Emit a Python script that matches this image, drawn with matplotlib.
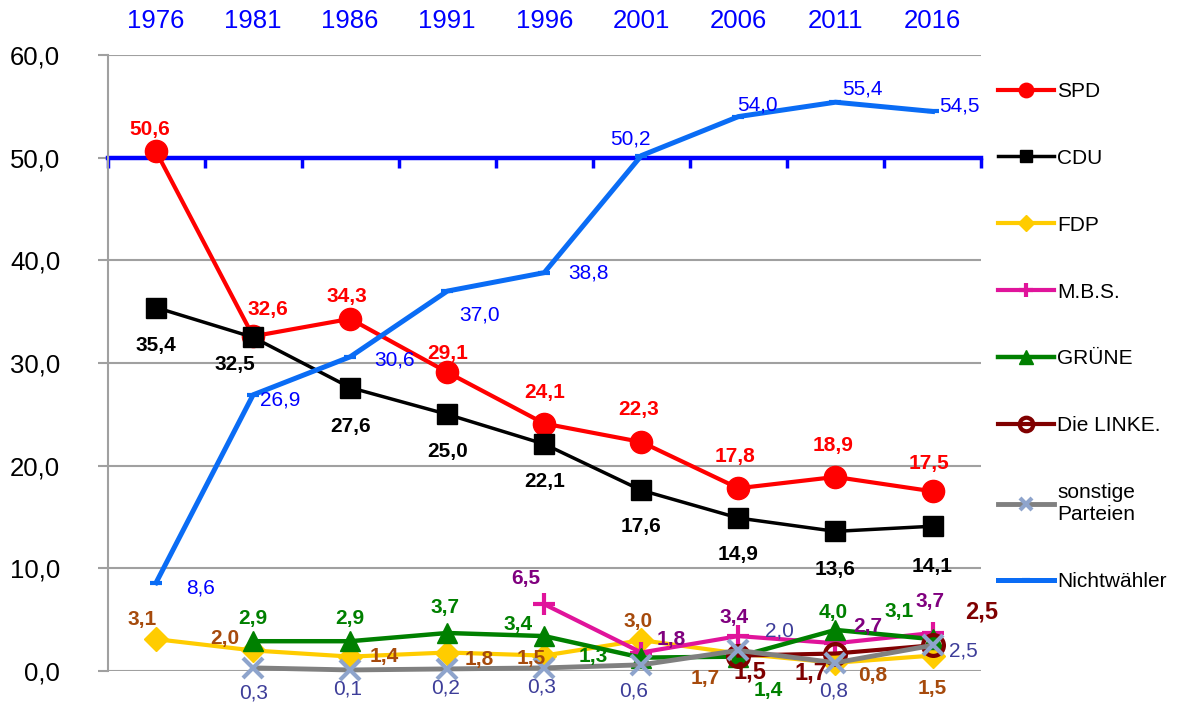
# -*- coding: utf-8 -*-

'''
Wahlergebnisse 1976 - 2016 mit Nichtwaehlern
'''

# imports
import matplotlib
matplotlib.use('Agg')
import matplotlib.pyplot as plt
from matplotlib.ticker import FuncFormatter

################################################################################
# data

years = ['1976', '1981', '1986', '1991', '1996', '2001', '2006', '2011', '2016']

spd = [50.6, 32.6, 34.3, 29.1, 24.1, 22.3, 17.8, 18.9, 17.5]
cdu = [35.4, 32.5, 27.6, 25.0, 22.1, 17.6, 14.9, 13.6, 14.1]
fdp = [3.1, 2.0, 1.4, 1.8, 1.5, 3.0, 1.7, 0.8, 1.5]
mbs = [None, None, None, None, 6.5, 1.8, 3.4, 2.7, 3.7]
gruene = [None, 2.9, 2.9, 3.7, 3.4, 1.3, 1.4, 4.0, 3.1]
linke = [None, None, None, None, None, None, 1.5, 1.7, 2.5]
sonstige = [None, 0.3, 0.1, 0.2, 0.3, 0.6, 2.0, 0.8, 2.5]
nichtwaehler = [8.6, 26.9, 30.6, 37.0, 38.8, 50.2, 54.0, 55.4, 54.5]

# label offsets in pixels (dx, dy)
spd_off = [(-6, 22), (15, 27), (-3, 22), (0, 19), (0, 31), (-3, 33), (-3, 32), (-2, 31), (-4, 28)]
cdu_off = [(0, -38), (-18, -27), (0, -39), (0, -37), (0, -37), (0, -36), (0, -36), (0, -38), (0, -40)]
fdp_off = [(-14, 20), (-28, 12), (34, 0), (32, -7), (-13, -3), (-3, 19), (-33, -25), (37, -13), (0, -33)]
mbs_off = [None, None, None, None, (-18, 26), (30, 13), (-4, 19), (32, 17), (-3, 31)]
gruene_off = [None, (0, 23), (0, 23), (-2, 25), (-26, 12), (-48, 1), (30, -34), (-2, 17), (-33, 28)]
linke_off = [None, None, None, None, None, None, (12, -16), (-25, -19), (49, 33)]
sonstige_off = [None, (0, -25), (-3, -19), (-2, -19), (-3, -19), (-8, -26), (41, 19), (-2, -28), (31, -6)]
nicht_off = [(44, -5), (27, -5), (44, -3), (32, -24), (44, 0), (-11, 17), (19, 12), (27, 13), (27, 5)]

################################################################################

def fmt(v):
    return ('%.1f' % v).replace('.', ',')

def add_labels(ax, values, offsets, color, size=15, weight='bold'):
    for i, v in enumerate(values):
        if v is None:
            continue
        ax.annotate(fmt(v), (i, v), xytext=offsets[i], textcoords='offset pixels',
                    ha='center', va='center', color=color, fontsize=size,
                    fontweight=weight, zorder=20)

def series(values):
    xs = [i for i, v in enumerate(values) if v is not None]
    ys = [v for v in values if v is not None]
    return xs, ys

################################################################################

if __name__ == "__main__":

    plt.rcParams['font.family'] = ['Liberation Sans', 'DejaVu Sans']

    fig = plt.figure(figsize=(11.78, 7.04), dpi=100)
    ax = fig.add_axes([0.0913, 0.0469, 0.7415, 0.875])

    ax.plot(*series(spd), color='#FF0000', lw=3, marker='o', ms=16, label='SPD', clip_on=False)
    ax.plot(*series(cdu), color='#000000', lw=2.5, marker='s', ms=14, label='CDU', clip_on=False)
    ax.plot(*series(fdp), color='#FFCC00', lw=3, marker='D', ms=12, label='FDP', clip_on=False)
    ax.plot(*series(mbs), color='#E0149B', lw=3, marker='+', ms=16, mew=3, label='M.B.S.', clip_on=False)
    ax.plot(*series(gruene), color='#008000', lw=3.2, marker='^', ms=15, label='GRÜNE', clip_on=False)
    ax.plot(*series(linke), color='#800000', lw=3, marker='o', ms=15, mew=3, mfc='none',
            label='Die LINKE.', clip_on=False)
    ax.plot(*series(sonstige), color='#808080', lw=3.5, marker='x', ms=14, mew=3, mec='#8EA4CC',
            label='sonstige\nParteien', clip_on=False)
    ax.plot(*series(nichtwaehler), color='#0A6CF5', lw=3.6, marker='_', ms=9, mew=3,
            label='Nichtwähler', clip_on=False)

    add_labels(ax, spd, spd_off, '#FF0000')
    add_labels(ax, cdu, cdu_off, '#000000')
    add_labels(ax, fdp, fdp_off, '#A64A0C')
    add_labels(ax, mbs, mbs_off, '#80007F')
    add_labels(ax, gruene, gruene_off, '#008000')
    add_labels(ax, linke, linke_off, '#7F0000', size=17)
    add_labels(ax, sonstige, sonstige_off, '#3D3D99', weight='normal')
    add_labels(ax, nichtwaehler, nicht_off, '#0000FF', weight='normal')

    # axes
    ax.set_xlim(-0.5, len(years) - 0.5)
    ax.set_ylim(0, 60)
    ax.set_yticks(range(0, 61, 10))
    ax.yaxis.set_major_formatter(FuncFormatter(lambda v, p: fmt(v)))
    ax.grid(axis='y', color='#A0A0A0', lw=1.5, zorder=0)
    ax.set_axisbelow(True)

    ax.set_xticks(range(len(years)))
    ax.set_xticklabels(years)
    ax.set_xticks([i - 0.5 for i in range(len(years) + 1)], minor=True)
    ax.tick_params(axis='x', which='major', length=0, labeltop=True, labelbottom=False,
                   top=False, bottom=False, labelsize=18.5, labelcolor='#0000FF', pad=16)
    ax.tick_params(axis='x', which='minor', direction='out', length=7, width=2.5,
                   color='#0000FF', bottom=True, top=False)
    ax.tick_params(axis='y', direction='out', length=7, width=1.5, color='#A0A0A0',
                   labelsize=18.5, pad=27)

    ax.spines['bottom'].set_position(('data', 50))
    ax.spines['bottom'].set_color('#0000FF')
    ax.spines['bottom'].set_linewidth(3.2)
    ax.spines['bottom'].set_zorder(1.5)
    ax.spines['left'].set_color('#A0A0A0')
    ax.spines['left'].set_linewidth(1.5)
    ax.spines['top'].set_visible(False)
    ax.spines['right'].set_visible(False)

    ax.legend(loc='upper left', bbox_to_anchor=(1.01, 0.97), frameon=False, fontsize=15,
              handlelength=2.7, handletextpad=0.15, labelspacing=2.3, borderaxespad=0,
              markerscale=0.65)

    fig.savefig('out.png', dpi=100)
